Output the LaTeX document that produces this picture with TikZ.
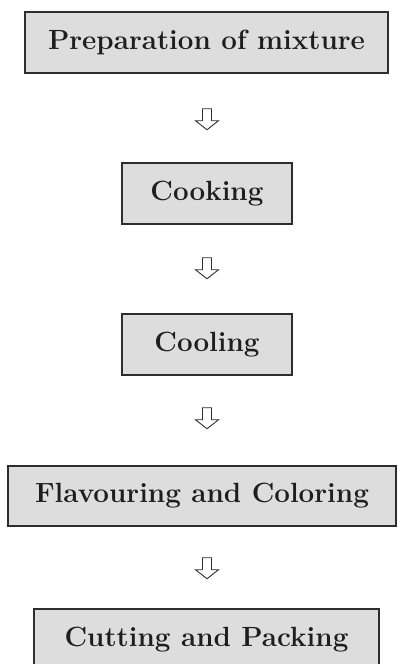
\documentclass[tikz,border=0pt]{standalone}
\usepackage{fontspec}
\usetikzlibrary{calc}
\definecolor{boxfill}{HTML}{DDDDDD}
\definecolor{boxline}{HTML}{2E2E2E}
\definecolor{txt}{HTML}{1E1E1E}
\begin{document}
\begin{tikzpicture}[x=1pt,y=1pt,
  stepbox/.style={draw=boxline, line width=1.5pt, fill=boxfill, text=txt,
    font=\fontsize{27.8}{30}\selectfont\bfseries, inner sep=0pt, minimum height=61pt},
  pics/hollowarrow/.style={code={
    \draw[boxline, line width=0.9pt, fill=white, line join=miter]
      (-4.5,0) -- (4.5,0) -- (4.5,-12) -- (11.5,-12) -- (0,-21) -- (-11.5,-12) -- (-4.5,-12) -- cycle;
  }}]
\useasboundingbox (0,0) rectangle (397,-664);
\clip (0,0) rectangle (397,-664);
\node[stepbox, minimum width=363pt] (b1) at (206.5,-42.5) {Preparation of mixture};
\node[stepbox, minimum width=170pt] (b2) at (207,-193.5) {Cooking};
\node[stepbox, minimum width=170pt] (b3) at (207,-344.5) {Cooling};
\node[stepbox, minimum width=388pt, minimum height=60pt] (b4) at (202,-496) {Flavouring and Coloring};
\node[stepbox, minimum width=345pt] (b5) at (206.5,-639.5) {Cutting and Packing};
\coordinate (a1) at ($(b1.south)+(0.5,-35)$);
\coordinate (a2) at ($(b2.south)+(0,-33)$);
\coordinate (a3) at ($(b3.south)+(0,-32)$);
\coordinate (a4) at ($(b4.south)+(5,-31)$);
\pic at (a1) {hollowarrow};
\pic at (a2) {hollowarrow};
\pic at (a3) {hollowarrow};
\pic at (a4) {hollowarrow};
\end{tikzpicture}
\end{document}
